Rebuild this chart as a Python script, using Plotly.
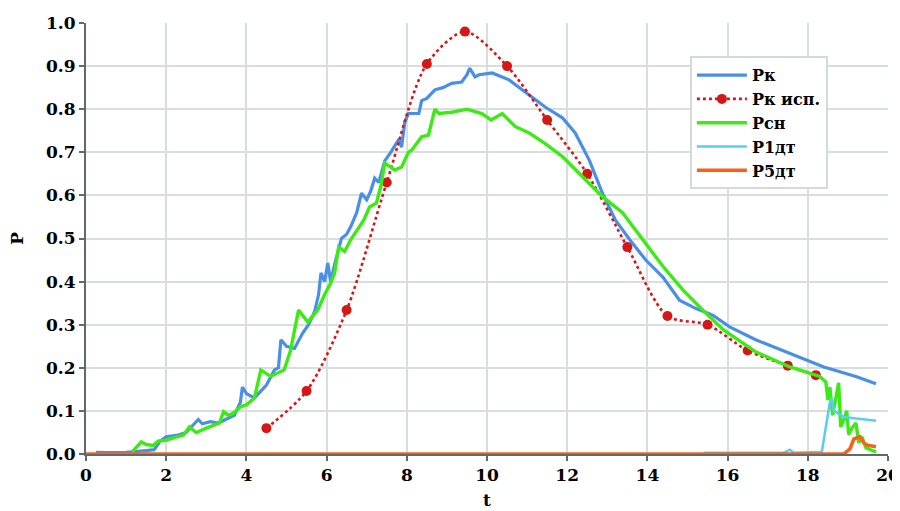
import plotly.graph_objects as go

# ---- data ----
t_rk = [0.25, 0.6, 1.0, 1.2, 1.5, 1.7, 1.85, 2.0, 2.3, 2.5, 2.8, 2.9, 3.1, 3.3, 3.5, 3.7, 3.85, 3.9,
        4.0, 4.2, 4.5, 4.7, 4.8, 4.86, 5.0, 5.2, 5.4, 5.55, 5.7, 5.8, 5.86, 5.95, 6.03, 6.1, 6.2,
        6.37, 6.5, 6.6, 6.75, 6.87, 7.0, 7.1, 7.2, 7.3, 7.45, 7.6, 7.8, 7.87, 7.95, 8.04, 8.3,
        8.37, 8.5, 8.7, 8.9, 9.12, 9.37, 9.5, 9.57, 9.7, 9.8, 10.13, 10.55, 11.05, 11.45, 11.88,
        12.2, 12.55, 12.88, 13.2, 13.56, 13.96, 14.39, 14.8, 15.2, 15.63, 16.05, 16.7, 17.55,
        18.4, 19.2, 19.7]
p_rk = [0.004, 0.003, 0.004, 0.005, 0.008, 0.01, 0.03, 0.04, 0.044, 0.05, 0.08, 0.07, 0.075, 0.072,
        0.08, 0.09, 0.12, 0.155, 0.14, 0.13, 0.16, 0.195, 0.2, 0.265, 0.25, 0.245, 0.28, 0.3, 0.33,
        0.37, 0.42, 0.40, 0.443, 0.40, 0.44, 0.50, 0.51, 0.527, 0.56, 0.605, 0.59, 0.61, 0.64,
        0.63, 0.68, 0.70, 0.73, 0.712, 0.77, 0.79, 0.79, 0.82, 0.825, 0.845, 0.85, 0.86, 0.863,
        0.88, 0.895, 0.875, 0.88, 0.884, 0.868, 0.833, 0.805, 0.78, 0.745, 0.682, 0.605, 0.543,
        0.497, 0.45, 0.41, 0.357, 0.338, 0.322, 0.295, 0.265, 0.234, 0.202, 0.18, 0.163]

t_rk_exp = [4.5, 5.5, 6.5, 7.5, 8.5, 9.45, 10.5, 11.5, 12.5, 13.5, 14.5, 15.5, 16.5, 17.5, 18.2]
p_rk_exp = [0.06, 0.146, 0.334, 0.63, 0.905, 0.98, 0.90, 0.775, 0.65, 0.48, 0.32, 0.30, 0.24,
            0.205, 0.183]

t_rsn = [1.15, 1.38, 1.5, 1.68, 1.8, 2.0, 2.2, 2.43, 2.58, 2.75, 3.0, 3.33, 3.43, 3.55, 3.68, 3.86,
         4.0, 4.2, 4.36, 4.6, 4.94, 5.1, 5.3, 5.53, 5.78, 5.95, 6.1, 6.2, 6.3, 6.45, 6.6, 6.93,
         7.07, 7.24, 7.35, 7.45, 7.7, 7.87, 8.04, 8.12, 8.37, 8.54, 8.7, 8.8, 9.12, 9.5, 9.87,
         10.1, 10.38, 10.7, 11.05, 11.45, 11.88, 12.38, 12.88, 13.38, 13.88, 14.39, 14.89,
         15.39, 15.9, 16.7, 17.55, 18.3, 18.45, 18.5, 18.55, 18.62, 18.7, 18.77, 18.82, 18.9,
         18.97, 19.02, 19.1, 19.2, 19.27, 19.35, 19.45, 19.7]
p_rsn = [0.005, 0.028, 0.022, 0.02, 0.03, 0.032, 0.038, 0.044, 0.063, 0.05, 0.06, 0.072, 0.098,
         0.09, 0.095, 0.11, 0.114, 0.13, 0.195, 0.18, 0.195, 0.24, 0.334, 0.306, 0.334, 0.37,
         0.396, 0.42, 0.48, 0.47, 0.497, 0.543, 0.573, 0.582, 0.62, 0.675, 0.659, 0.666, 0.70,
         0.705, 0.736, 0.74, 0.80, 0.79, 0.793, 0.80, 0.79, 0.775, 0.79, 0.76, 0.745, 0.72,
         0.69, 0.643, 0.597, 0.56, 0.497, 0.435, 0.38, 0.333, 0.288, 0.237, 0.202, 0.18, 0.167,
         0.125, 0.155, 0.09, 0.13, 0.165, 0.063, 0.08, 0.10, 0.045, 0.06, 0.072, 0.026, 0.04,
         0.014, 0.005]

t_p1 = [15.4, 17.4, 17.55, 17.65, 18.35, 18.45, 18.55, 18.6, 18.65, 18.9, 19.2, 19.7]
p_p1 = [0.003, 0.003, 0.01, 0.003, 0.005, 0.06, 0.12, 0.13, 0.10, 0.086, 0.083, 0.077]

t_p5 = [0.0, 18.9, 19.05, 19.15, 19.3, 19.4, 19.5, 19.7]
p_p5 = [0.0, 0.0, 0.012, 0.035, 0.04, 0.025, 0.02, 0.017]

x_ticks = list(range(0, 21, 2))
y_ticks = [round(i * 0.1, 1) for i in range(11)]

FONT = "DejaVu Serif"
tfont = dict(family=FONT, size=17, color="black", weight="bold")
lfont = dict(family=FONT, size=16, color="black", weight="bold")

fig = go.Figure()
fig.add_trace(go.Scatter(x=t_rk, y=p_rk, name="Рк", mode="lines",
                         line=dict(color="#4a8fe6", width=3.2)))
fig.add_trace(go.Scatter(x=t_rk_exp, y=p_rk_exp, name="Рк исп.", mode="lines+markers",
                         line=dict(color="#d41818", width=2.6, dash="dot", shape="spline",
                                   smoothing=0.8),
                         marker=dict(color="#d41818", size=10)))
fig.add_trace(go.Scatter(x=t_rsn, y=p_rsn, name="Рсн", mode="lines",
                         line=dict(color="#3cea14", width=3.4)))
fig.add_trace(go.Scatter(x=t_p1, y=p_p1, name="Р1дт", mode="lines",
                         line=dict(color="#5ccdf2", width=2.6)))
fig.add_trace(go.Scatter(x=t_p5, y=p_p5, name="Р5дт", mode="lines",
                         line=dict(color="#f5631a", width=3.6)))

axis_common = dict(
    showline=True, linecolor="#5f6b6b", linewidth=2,
    showgrid=True, gridcolor="#d8dede", gridwidth=2,
    zeroline=False, ticks="outside", ticklen=5, tickcolor="#5f6b6b", tickwidth=2,
    tickfont=tfont, automargin=False,
)

fig.update_layout(
    width=892, height=503,
    margin=dict(l=78, r=12, t=15, b=57),
    paper_bgcolor="white", plot_bgcolor="white",
    xaxis=dict(range=[0, 20], tickvals=x_ticks, **axis_common),
    yaxis=dict(range=[0, 1.0], tickvals=y_ticks, tickformat=".1f", **axis_common),
    legend=dict(x=0.753, y=0.923, xanchor="left", yanchor="top",
                bgcolor="white", bordercolor="#d4dada", borderwidth=2,
                font=lfont, itemwidth=50, tracegroupgap=0),
    showlegend=True,
    annotations=[
        dict(text="t", xref="paper", yref="paper", x=0.5, y=-0.107,
             xanchor="center", yanchor="middle", showarrow=False, font=tfont),
        dict(text="P", xref="paper", yref="paper", x=-0.087, y=0.5, textangle=-90,
             xanchor="center", yanchor="middle", showarrow=False, font=tfont),
    ],
)

fig.write_html("out.html")
